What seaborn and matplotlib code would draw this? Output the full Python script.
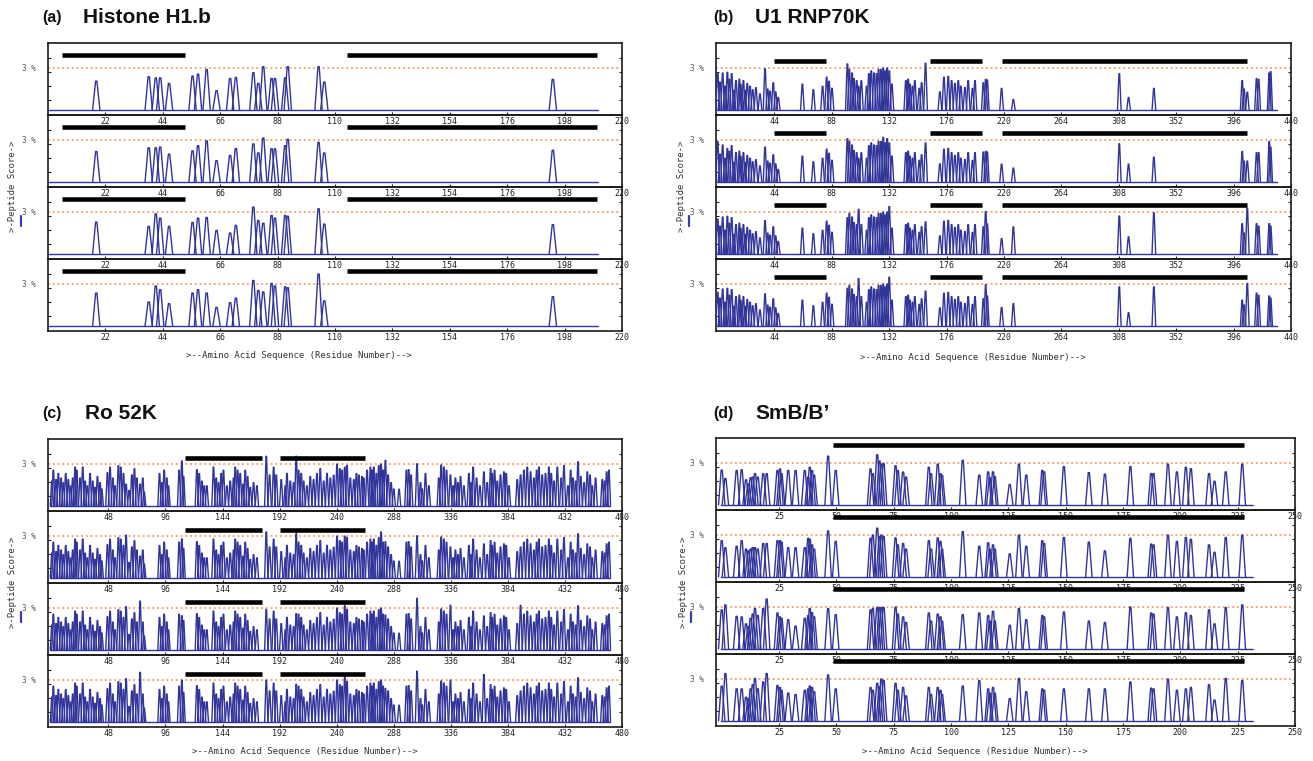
import matplotlib
matplotlib.use("Agg")
import matplotlib.pyplot as plt
import seaborn as sns
import pandas as pd
from matplotlib.lines import Line2D

# ---------------- data ----------------
# Panel (a) Histone H1.b : peak residue positions and peak scores for 4 tracks
a_pos = [18.5, 38.6, 41.3, 43.0, 46.4, 55.4, 57.5, 60.8, 64.6, 69.8, 72.0,
         78.7, 80.6, 82.5, 85.7, 87.0, 90.9, 91.9, 103.7, 105.9, 193.5]
a_h1 = [2.07, 2.38, 2.3, 2.3, 1.9, 2.43, 2.57, 2.9, 1.38, 2.26, 2.33,
        2.67, 1.9, 3.1, 2.26, 2.26, 2.3, 3.1, 3.1, 2.0, 2.19]
a_h2 = [2.19, 2.45, 2.45, 2.5, 2.0, 2.23, 2.6, 2.95, 1.53, 1.9, 2.4,
        2.73, 2.08, 3.15, 2.38, 2.38, 2.6, 3.06, 2.84, 2.08, 2.28]
a_h3 = [2.29, 1.98, 2.88, 2.57, 1.98, 2.26, 2.57, 2.62, 1.69, 1.5, 2.05,
        3.36, 2.4, 2.2, 2.76, 2.57, 2.76, 2.7, 3.24, 2.14, 2.1]
a_h4 = [2.36, 1.72, 2.87, 2.6, 1.6, 2.36, 2.6, 2.36, 1.33, 1.67, 2.0,
        3.26, 2.54, 2.44, 3.05, 2.87, 2.8, 2.74, 3.72, 1.8, 2.1]
a_bars = [(5.2, 52.4), (114.6, 210.5)]
a_span = (0.0, 210.7)
a_ticks = [22, 44, 66, 88, 110, 132, 154, 176, 198, 220]

# Panel (b) U1 RNP70K
b_peaks = [(0.6, 2.65), (2.4, 2.0), (4.4, 2.65), (6.2, 1.7), (8.0, 2.7), (9.5, 2.2),
           (11.3, 2.6), (13.1, 1.4), (14.6, 2.1), (17.2, 2.2), (18.2, 1.85), (20.3, 2.1),
           (21.5, 1.4), (23.3, 1.9), (25.4, 1.7), (27.4, 1.45), (29.9, 1.6), (33.0, 1.15),
           (36.9, 2.95), (38.9, 1.5), (40.7, 1.35), (43.2, 1.95), (45.0, 1.3), (47.0, 0.9),
           (65.5, 1.85), (73.9, 1.45), (81.0, 1.7), (84.1, 2.35), (85.9, 2.05), (88.2, 1.55),
           (100.0, 3.3), (101.5, 2.9), (103.6, 2.65), (105.0, 2.25), (107.1, 2.1), (108.6, 1.7),
           (110.7, 2.1), (114.8, 1.7), (116.5, 2.6), (118.3, 2.8), (120.4, 2.65), (122.4, 2.6),
           (123.9, 2.9), (125.7, 2.9), (127.5, 3.0), (129.0, 2.8), (130.5, 3.0), (132.1, 2.8),
           (134.1, 1.85), (144.8, 2.1), (146.6, 2.2), (147.9, 1.85), (149.9, 1.7), (151.7, 2.1),
           (155.1, 1.55), (156.9, 1.95), (159.9, 3.35), (170.9, 1.3), (174.0, 2.35), (177.3, 2.4),
           (179.9, 2.1), (182.4, 1.9), (185.0, 2.1), (187.0, 1.7), (190.1, 1.6), (192.6, 2.1),
           (195.9, 1.55), (197.8, 2.1), (204.2, 1.95), (206.0, 2.2), (207.2, 2.15), (218.2, 1.55),
           (227.2, 0.75), (308.4, 2.6), (315.5, 0.9), (334.9, 1.55), (402.6, 2.1), (404.0, 1.5),
           (406.5, 1.27), (413.6, 2.25), (415.2, 2.2), (423.3, 2.65), (424.4, 2.75)]
b_changes2 = {0.6: 2.9, 8.0: 2.4, 36.9: 2.5, 100.0: 3.1, 127.5: 3.2, 130.5: 3.1, 159.9: 2.8,
              204.2: 2.14, 218.2: 1.28, 227.2: 1.0, 308.4: 2.74, 315.5: 1.28, 334.9: 1.78,
              402.6: 2.18, 406.5: 1.5, 413.6: 2.1, 415.2: 2.1, 423.3: 2.9, 424.4: 2.5}
b_changes3 = {0.6: 2.5, 36.9: 2.4, 100.0: 2.6, 108.6: 3.2, 132.1: 3.4, 159.9: 2.3, 206.0: 3.05,
              218.2: 1.1, 227.2: 1.94, 308.4: 2.72, 315.5: 1.23, 334.9: 2.95, 402.6: 2.17,
              406.5: 3.28, 413.6: 2.17, 415.2: 2.0, 423.3: 2.17, 424.4: 2.0}
b_changes4 = {0.6: 2.4, 36.9: 2.3, 100.0: 2.7, 108.6: 3.4, 132.1: 3.5, 159.9: 2.5, 206.0: 2.95,
              218.2: 1.33, 227.2: 1.6, 308.4: 2.8, 315.5: 0.95, 334.9: 2.8, 402.6: 1.85,
              406.5: 3.05, 413.6: 2.36, 415.2: 2.2, 423.3: 2.15, 424.4: 2.0}
b_bars = [(43.8, 83.4), (163.3, 202.9), (218.2, 406.0)]
b_span = (0.0, 429.0)
b_ticks = [44, 88, 132, 176, 220, 264, 308, 352, 396, 440]

# Panel (c) Ro 52K
c_peaks = [(0.5, 1.78), (1.7, 2.56), (4.0, 1.89), (5.9, 2.33), (8.2, 2.0), (10.1, 1.67),
           (12.1, 2.33), (14.3, 1.89), (16.3, 1.44), (18.0, 2.0), (20.0, 2.78), (21.4, 2.56),
           (24.2, 2.0), (26.4, 2.78), (28.4, 1.78), (30.3, 1.44), (32.6, 2.33), (34.8, 1.78),
           (36.8, 1.33), (38.8, 2.11), (41.0, 1.67), (42.4, 1.22), (47.2, 2.38), (49.4, 2.78),
           (51.7, 2.0), (53.6, 1.44), (56.4, 2.89), (58.4, 2.78), (60.7, 2.33), (62.9, 1.56),
           (65.4, 1.11), (67.7, 2.22), (69.9, 2.67), (71.9, 2.0), (74.7, 1.56), (76.9, 2.0),
           (78.1, 1.0), (91.0, 2.33), (92.9, 1.67), (94.9, 2.56), (97.1, 2.0), (98.5, 1.44),
           (107.5, 2.56), (109.8, 3.22), (111.2, 2.11), (122.4, 2.6), (124.4, 2.33), (126.6, 1.78),
           (128.6, 1.44), (130.8, 1.44), (136.4, 2.78), (138.7, 2.0), (140.7, 1.67), (142.9, 2.33),
           (144.8, 2.56), (147.7, 1.44), (150.5, 1.78), (153.3, 2.0), (154.7, 2.78), (156.7, 2.56),
           (158.9, 2.33), (161.2, 1.56), (163.1, 2.56), (165.1, 2.11), (167.3, 1.33), (170.1, 1.67),
           (172.9, 1.44), (180.8, 3.56), (183.6, 2.22), (187.0, 2.78), (189.2, 2.22), (193.4, 1.89),
           (196.8, 1.44), (198.2, 2.33), (201.0, 1.78), (203.8, 1.67), (206.0, 3.56), (208.0, 2.56),
           (210.2, 2.33), (212.2, 1.78), (215.0, 1.44), (217.8, 2.11), (220.6, 1.89), (223.4, 2.33),
           (226.2, 2.67), (229.1, 1.78), (231.9, 2.33), (234.7, 2.0), (237.5, 2.2), (240.3, 3.0),
           (242.6, 2.67), (244.5, 2.56), (246.8, 2.78), (248.7, 2.89), (251.5, 2.0), (254.4, 1.89),
           (256.6, 2.33), (258.6, 2.22), (261.3, 2.11), (262.8, 2.0), (265.6, 2.56), (268.4, 2.78),
           (269.8, 2.56), (271.2, 2.78), (273.4, 2.33), (275.4, 2.89), (277.4, 3.0), (279.1, 2.56),
           (281.0, 3.27), (283.3, 2.22), (285.8, 1.67), (288.0, 1.22), (292.5, 1.2), (298.7, 2.56),
           (300.6, 2.6), (302.6, 2.22), (307.6, 3.02), (310.5, 1.67), (311.9, 1.22), (314.7, 2.33),
           (317.5, 1.44), (325.9, 2.0), (327.9, 2.93), (330.1, 2.78), (332.4, 2.56), (335.7, 2.22),
           (338.0, 1.44), (339.9, 2.0), (341.9, 1.67), (344.2, 2.11), (347.0, 1.44), (351.2, 2.33),
           (353.2, 1.67), (354.8, 2.78), (357.7, 2.0), (360.5, 1.44), (363.8, 2.44), (366.6, 1.67),
           (369.5, 2.67), (370.8, 2.33), (372.8, 2.56), (375.1, 1.78), (377.8, 2.22), (380.7, 2.44),
           (382.6, 2.33), (384.9, 1.44), (391.9, 1.89), (394.7, 2.22), (397.5, 2.56), (400.3, 2.78),
           (403.1, 2.44), (405.9, 2.0), (408.2, 2.56), (410.1, 2.78), (412.9, 2.22), (415.7, 2.33),
           (418.5, 2.78), (420.5, 2.33), (422.8, 1.78), (425.6, 2.78), (428.9, 2.0), (431.2, 2.89),
           (434.5, 1.44), (436.8, 2.56), (438.8, 2.0), (441.1, 1.78), (443.0, 3.16), (445.3, 2.11),
           (448.1, 1.67), (450.8, 2.44), (453.1, 2.22), (455.0, 1.44), (457.8, 2.0), (463.4, 1.89),
           (465.4, 1.78), (467.1, 2.44), (469.0, 2.56)]
c_changes2 = {62.9: 3.06, 109.8: 2.8, 180.8: 3.3, 206.0: 3.17, 246.8: 3.0, 277.4: 3.3, 281.0: 2.6}
c_changes3 = {62.9: 3.1, 74.7: 3.5, 109.8: 2.45, 180.8: 2.9, 206.0: 2.6, 246.8: 3.17,
              281.0: 2.5, 307.6: 3.7, 335.7: 3.2, 394.7: 3.2}
c_changes4 = {62.9: 3.1, 74.7: 3.56, 109.8: 3.0, 180.8: 3.0, 206.0: 2.7, 246.8: 3.26,
              281.0: 2.4, 307.6: 3.64, 335.7: 3.0, 363.8: 3.4}
c_bars = [(112.6, 177.2), (192.0, 264.0)]
c_span = (-1.0, 469.5)
c_ticks = [48, 96, 144, 192, 240, 288, 336, 384, 432, 480]

# Panel (d) SmB/B'
d_pos = [0.0, 1.6, 6.5, 8.7, 10.6, 11.6, 12.6, 13.5, 14.5, 15.7,
         18.1, 19.6, 24.3, 25.4, 26.1, 29.0, 32.2, 36.2, 37.7, 38.4,
         39.4, 40.3, 46.4, 49.7, 64.9, 65.9, 67.8, 68.8, 69.6, 70.6,
         75.8, 76.8, 79.1, 80.4, 90.3, 91.3, 94.2, 95.4, 96.1, 105.1,
         112.3, 116.2, 116.9, 118.3, 119.1, 125.6, 129.6, 132.8, 139.8, 140.6,
         149.2, 160.1, 167.1, 178.2, 187.3, 188.3, 194.6, 198.5, 202.4, 204.6,
         212.5, 214.9, 219.8, 227.0]
d_h1 = [2.5, 1.9, 2.47, 2.52, 1.8, 1.5, 1.95, 2.0, 2.25, 2.0,
        2.24, 2.24, 2.47, 2.58, 2.24, 2.47, 2.47, 2.47, 2.0, 2.7,
        2.47, 2.13, 3.5, 2.47, 2.58, 2.24, 3.6, 3.15, 2.93, 2.97,
        2.81, 2.47, 2.36, 2.0, 2.7, 2.24, 2.93, 2.24, 2.13, 3.2,
        2.14, 2.37, 1.96, 2.37, 2.03, 1.47, 2.93, 2.14, 2.48, 2.37,
        2.75, 2.32, 2.21, 2.75, 2.25, 2.25, 2.93, 2.37, 2.7, 2.6,
        2.25, 1.7, 2.37, 2.93]
d_h2 = [2.6, 2.1, 2.2, 2.6, 2.0, 1.87, 2.0, 2.1, 2.1, 2.0,
        2.4, 2.4, 2.6, 2.6, 2.5, 2.1, 2.1, 2.1, 2.77, 2.7,
        2.3, 2.0, 3.3, 2.55, 2.77, 3.0, 3.5, 2.9, 3.0, 2.9,
        2.8, 2.3, 2.4, 2.0, 2.6, 2.0, 2.8, 2.55, 2.0, 3.25,
        2.2, 2.45, 2.0, 2.3, 2.0, 1.66, 3.0, 2.2, 2.6, 2.4,
        2.83, 2.5, 1.87, 2.77, 2.36, 2.3, 3.0, 2.55, 2.83, 2.7,
        2.3, 1.77, 2.83, 3.0]
d_h3 = [2.8, 3.16, 2.34, 2.3, 1.8, 1.6, 2.2, 2.5, 2.9, 2.4,
        2.9, 3.58, 2.58, 2.3, 2.2, 2.1, 1.64, 2.2, 2.4, 2.9,
        2.6, 2.3, 2.9, 2.46, 2.8, 2.9, 2.97, 2.97, 2.97, 2.97,
        3.0, 2.5, 2.3, 1.9, 2.58, 2.0, 2.5, 2.3, 2.0, 2.46,
        2.58, 2.4, 2.0, 2.7, 2.0, 1.7, 2.9, 2.1, 2.4, 2.3,
        2.65, 2.0, 1.9, 3.0, 2.58, 2.5, 2.97, 2.3, 2.6, 2.4,
        2.8, 1.8, 2.97, 3.16]
d_h4 = [2.5, 3.4, 2.3, 2.3, 1.7, 1.6, 2.3, 2.6, 3.05, 2.3,
        2.8, 3.4, 2.55, 2.4, 2.2, 2.0, 1.9, 2.2, 2.3, 2.5,
        2.4, 2.1, 3.3, 2.3, 2.4, 2.2, 2.7, 2.45, 3.0, 2.9,
        2.7, 2.2, 2.4, 1.8, 2.4, 1.9, 2.4, 2.2, 1.9, 2.5,
        2.9, 2.3, 2.0, 2.4, 2.0, 1.6, 3.05, 2.1, 2.3, 2.2,
        2.3, 2.3, 2.3, 2.8, 2.35, 2.3, 3.0, 2.2, 2.3, 2.4,
        2.6, 1.5, 3.05, 2.9]
d_bars = [(48.6, 227.9)]
d_span = (-0.5, 231.8)
d_ticks = [25, 50, 75, 100, 125, 150, 175, 200, 225, 250]

threshold = 3.0
score_ticks = [0.75, 1.75, 2.75, 3.75]

titles = [("(a)", "Histone H1.b"), ("(b)", "U1 RNP70K"), ("(c)", "Ro 52K"), ("(d)", "SmB/B\u2019")]
xlabel_text = ">--Amino Acid Sequence (Residue Number)-->"
ylabel_text = ">-Peptide Score->"

# ---------------- helpers ----------------
def with_changes(pos, base, changes):
    out = list(base)
    for p, v in changes.items():
        out[pos.index(p)] = v
    return out

b_pos = [p for p, _ in b_peaks]
b_h1 = [h for _, h in b_peaks]
c_pos = [p for p, _ in c_peaks]
c_h1 = [h for _, h in c_peaks]
b_tracks = [b_h1, with_changes(b_pos, b_h1, b_changes2),
            with_changes(b_pos, b_h1, b_changes3), with_changes(b_pos, b_h1, b_changes4)]
c_tracks = [c_h1, with_changes(c_pos, c_h1, c_changes2),
            with_changes(c_pos, c_h1, c_changes3), with_changes(c_pos, c_h1, c_changes4)]
for hl in (a_h1, a_h2, a_h3, a_h4):
    assert len(hl) == len(a_pos)
for hl in (d_h1, d_h2, d_h3, d_h4):
    assert len(hl) == len(d_pos)

sns.set_theme(style="white")
plt.rcParams["font.family"] = ["DejaVu Sans"]

TRACE = "#31349a"
DASH = "#f28a45"
MONO = "DejaVu Sans Mono"

W, H = 1313, 761
fig = plt.figure(figsize=(W / 100, H / 100), dpi=100)
fig.patch.set_facecolor("white")


def px_axes(x, y, w, h):
    return fig.add_axes([x / W, 1 - (y + h) / H, w / W, h / H])


def draw_panel(box, xlim, ticks, pos, tracks, bars, bar_y, span, hw=1.4, top=0.25):
    x0, y0, wd, sh = box
    for i, hs in enumerate(tracks):
        ax = px_axes(x0, y0 + i * sh, wd, sh)
        ax.set_facecolor("none")
        rows = [(span[0], 0.0, 0), (span[1], 0.0, 0)]
        for k, (c, h) in enumerate(zip(pos, hs), start=1):
            rows += [(c - hw, 0.0, k), (c - top, h, k), (c + top, h, k), (c + hw, 0.0, k)]
        df = pd.DataFrame(rows, columns=["res", "score", "pk"])
        sns.lineplot(data=df, x="res", y="score", units="pk", estimator=None, sort=False,
                     color=TRACE, lw=1.0, ax=ax, legend=False, zorder=3)
        ax.axhline(threshold, color=DASH, lw=1.1, ls=(0, (1.2, 1.9)), zorder=2)
        for b0, b1 in bars:
            ax.hlines(bar_y, b0, b1, color="black", lw=3.3, zorder=4)
        ax.set_xlim(*xlim)
        ax.set_ylim(-0.36, 4.8)
        ax.set_xticks(ticks)
        ax.set_xticklabels([str(t) for t in ticks], fontfamily=MONO, fontsize=6, color="#222222")
        ax.set_yticks(score_ticks)
        ax.set_yticklabels([])
        ax.tick_params(axis="x", bottom=True, top=False, direction="in", length=2.4,
                       width=0.8, pad=1.5, color="#222222")
        ax.tick_params(axis="y", left=True, right=True, direction="in", length=2.4,
                       width=0.8, color="#222222")
        ax.set_xlabel("")
        ax.set_ylabel("")
        for s in ax.spines.values():
            s.set_color("#1a1a1a")
            s.set_linewidth(1.2)
        ax.annotate("3 %", xy=(0, threshold), xycoords=("axes fraction", "data"),
                    xytext=(-9, 0), textcoords="offset points", ha="right", va="center",
                    fontfamily=MONO, fontsize=5.5, color="#555555")


sub_h = 72
draw_panel((48, 43, 574, sub_h), (0, 220), a_ticks, a_pos, [a_h1, a_h2, a_h3, a_h4],
           a_bars, 3.93, a_span)
draw_panel((716, 43, 575, sub_h), (-0.7, 440), b_ticks, b_pos, b_tracks, b_bars, 3.5, b_span)
draw_panel((48, 439, 574, sub_h), (-2.8, 480), c_ticks, c_pos, c_tracks, c_bars, 3.43, c_span)
draw_panel((716, 438, 579, sub_h), (-2.5, 250), d_ticks, d_pos, [d_h1, d_h2, d_h3, d_h4],
           d_bars, 4.3, d_span)

# titles
title_pos = [(42, 83, 17.5), (713, 755, 17.5), (42, 85, 414), (713, 755, 414)]
for (lab, name), (xl, xn, yc) in zip(titles, title_pos):
    fig.text(xl / W, 1 - yc / H, lab, ha="left", va="center", fontsize=11.5,
             fontweight="bold", fontfamily="Liberation Sans", color="#111111")
    fig.text(xn / W, 1 - yc / H, name, ha="left", va="center", fontsize=15,
             fontweight="bold", fontfamily="Liberation Sans", color="#111111")

# axis labels
xlab_pos = [(299, 356), (973, 357), (305, 752), (975, 751)]
for xc, yc in xlab_pos:
    fig.text(xc / W, 1 - yc / H, xlabel_text, ha="center", va="center",
             fontfamily=MONO, fontsize=6.5, color="#333333")

ylab_pos = [(13, 186, 21), (681, 186, 689), (13, 582, 21), (683, 582, 691)]
for xc, yc, xm in ylab_pos:
    fig.text(xc / W, 1 - yc / H, ylabel_text, ha="center", va="center", rotation=90,
             fontfamily=MONO, fontsize=6.5, color="#333333")
    fig.add_artist(Line2D([xm / W, xm / W], [1 - (yc + 30) / H, 1 - (yc + 40) / H],
                          color="#3b3bb0", lw=1.6, transform=fig.transFigure))

fig.savefig("out.png", dpi=100, facecolor="white")
